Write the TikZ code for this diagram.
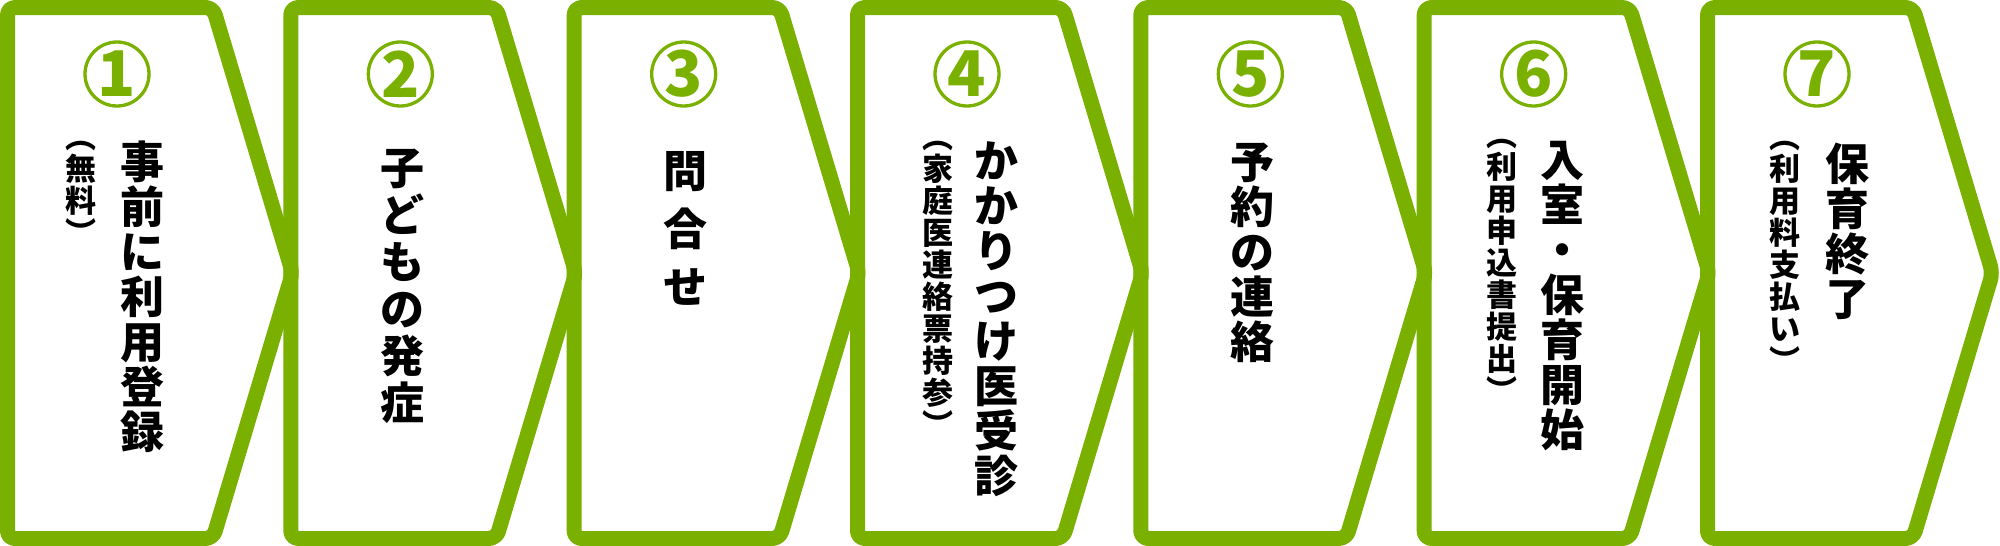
\documentclass[tikz,border=0pt]{standalone}
\usepackage{fontspec}
\setmainfont{Noto Sans CJK JP}
\usetikzlibrary{positioning,calc}
\definecolor{stepCol}{HTML}{7AB100}
\tikzstyle{chevron}=[draw=stepCol, line width=15pt, line join=round, rounded corners=7.5pt]
\tikzstyle{numcircle}=[circle, draw=stepCol, line width=3.3pt, minimum size=64pt, inner sep=0pt, text=stepCol, font=\bfseries\fontsize{63}{63}\selectfont]
\tikzstyle{mainlabel}=[anchor=north, inner sep=0pt, align=center, font=\bfseries\fontsize{44}{45}\selectfont]
\tikzstyle{sublabel}=[anchor=north, inner sep=0pt, align=center, font=\bfseries\fontsize{31}{32}\selectfont]
\tikzset{Step/.pic={\tikzset{/stepblock/.cd,#1}
        % CHEVRON OUTLINE (centre line of the stroke)
        \draw [chevron] (7.5,7.5) -- (213,7.5) -- (292.5,273) -- (213,538.5) -- (7.5,538.5) -- cycle;
        % STEP NUMBER
        \node [numcircle] (\name-num) at (117,74) {\stepnum};
        % ANCHOR for the text columns
        \coordinate (\name-top) at (117,141);
    },
    /stepblock/.search also={/tikz},
    /stepblock/.cd,
    name/.store in=\name, num/.store in=\stepnum,
    name=, num=1,
}

\begin{document}
\begin{tikzpicture}[x=1pt, y=-1pt]

    \fill[white] (0,0) rectangle (2000,546);
    \useasboundingbox (0,0) rectangle (2000,546);

    % ==== STEPS ====
    \pic at (0,0)       {Step={name=s1, num=1}};
    \pic at (283.33,0)  {Step={name=s2, num=2}};
    \pic at (566.67,0)  {Step={name=s3, num=3}};
    \pic at (850,0)     {Step={name=s4, num=4}};
    \pic at (1133.33,0) {Step={name=s5, num=5}};
    \pic at (1416.67,0) {Step={name=s6, num=6}};
    \pic at (1700,0)    {Step={name=s7, num=7}};

    % ==== LABELS ====
    \node[mainlabel] (s1-main) at ($(s1-top) + (25,0)$) {事\\前\\に\\利\\用\\登\\録};
    \node[sublabel]  (s1-sub)  at ($(s1-top) + (-36,0)$) {︵\\無\\料\\︶};

    \node[mainlabel, font=\bfseries\fontsize{44}{47}\selectfont] (s2-main) at ($(s2-top) + (2,8)$) {子\\ど\\も\\の\\発\\症};

    \node[mainlabel, font=\bfseries\fontsize{44}{58}\selectfont] (s3-main) at ($(s3-top) + (2,10)$) {問\\合\\せ};

    \node[mainlabel] (s4-main) at ($(s4-top) + (29,0)$) {か\\か\\り\\つ\\け\\医\\受\\診};
    \node[sublabel]  (s4-sub)  at ($(s4-top) + (-29,0)$) {︵\\家\\庭\\医\\連\\絡\\票\\持\\参\\︶};

    \node[mainlabel] (s5-main) at ($(s5-top) + (2,2)$) {予\\約\\の\\連\\絡};

    \node[mainlabel] (s6-main) at ($(s6-top) + (29,0)$) {入\\室\\・\\保\\育\\開\\始};
    \node[sublabel]  (s6-sub)  at ($(s6-top) + (-32,-2)$) {︵\\利\\用\\申\\込\\書\\提\\出\\︶};

    \node[mainlabel] (s7-main) at ($(s7-top) + (30,2)$) {保\\育\\終\\了};
    \node[sublabel]  (s7-sub)  at ($(s7-top) + (-32,0)$) {︵\\利\\用\\料\\支\\払\\い\\︶};

\end{tikzpicture}
\end{document}
